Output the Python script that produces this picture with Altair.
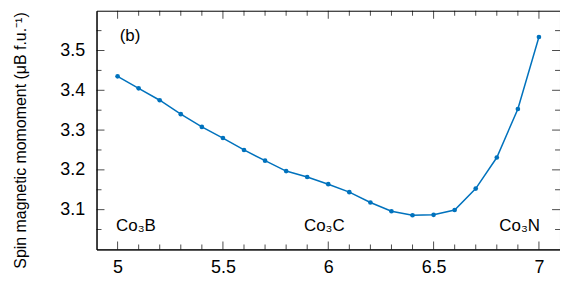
import altair as alt
import pandas as pd

# data
x_vals = [5.0, 5.1, 5.2, 5.3, 5.4, 5.5, 5.6, 5.7, 5.8, 5.9, 6.0,
          6.1, 6.2, 6.3, 6.4, 6.5, 6.6, 6.7, 6.8, 6.9, 7.0]
moment = [3.435, 3.405, 3.375, 3.340, 3.308, 3.280, 3.250, 3.223, 3.197, 3.182, 3.164,
          3.144, 3.118, 3.096, 3.086, 3.087, 3.099, 3.153, 3.231, 3.353, 3.534]

x_major = [5, 5.5, 6, 6.5, 7]
x_minor = [5.1, 5.2, 5.3, 5.4, 5.6, 5.7, 5.8, 5.9, 6.1, 6.2, 6.3, 6.4,
           6.6, 6.7, 6.8, 6.9]
y_major = [3.1, 3.2, 3.3, 3.4, 3.5]
y_minor = [3.05, 3.15, 3.25, 3.35, 3.45, 3.55]

ann_text = ["(b)", "Co₃B", "Co₃C", "Co₃N"]
ann_x = [5.01, 4.993, 5.981, 7.005]
ann_y = [3.5375, 3.058, 3.058, 3.058]
ann_align = ["left", "left", "center", "right"]

W, H = 466, 240
FONT = "Liberation Sans"
BLUE = "#0072BD"

df = pd.DataFrame({"x": x_vals, "y": moment})

xs = alt.Scale(domain=[4.9, 7.1], nice=False, zero=False)
ys = alt.Scale(domain=[3.0, 3.6], nice=False, zero=False)

xaxis = alt.Axis(values=x_major, ticks=False, grid=False, domain=True,
                 domainColor="black", domainWidth=1,
                 labelFontSize=18, labelPadding=9, labelFont=FONT,
                 labelColor="black", labelExpr="datum.value")
yaxis = alt.Axis(values=y_major, ticks=False, grid=False, domain=True,
                 domainColor="black", domainWidth=1,
                 labelFontSize=18, labelPadding=12, labelFont=FONT,
                 labelColor="black", format=".1f",
                 title="Spin magnetic momoment (μB f.u.⁻¹)",
                 titleFontSize=16, titleFont=FONT, titleFontWeight="normal",
                 titleColor="black", titlePadding=31, titleLimit=400,
                 titleY=130)

line = alt.Chart(df).mark_line(color=BLUE, strokeWidth=1.5).encode(
    x=alt.X("x:Q", scale=xs, axis=xaxis, title=None),
    y=alt.Y("y:Q", scale=ys, axis=yaxis),
)
pts = alt.Chart(df).mark_point(color=BLUE, filled=True, opacity=1, size=22).encode(
    x=alt.X("x:Q", scale=xs), y=alt.Y("y:Q", scale=ys)
)

layers = [line, pts]

def xticks(vals, L):
    d = pd.DataFrame({"x": vals})
    bot = alt.Chart(d).mark_tick(orient="vertical", size=L, thickness=1, color="black").encode(
        x=alt.X("x:Q", scale=xs), y=alt.value(H - L / 2))
    top = alt.Chart(d).mark_tick(orient="vertical", size=L, thickness=1, color="black").encode(
        x=alt.X("x:Q", scale=xs), y=alt.value(L / 2))
    return [bot, top]

def yticks(vals, L):
    d = pd.DataFrame({"y": vals})
    left = alt.Chart(d).mark_tick(orient="horizontal", size=L, thickness=1, color="black").encode(
        y=alt.Y("y:Q", scale=ys), x=alt.value(L / 2))
    right = alt.Chart(d).mark_tick(orient="horizontal", size=L, thickness=1, color="black").encode(
        y=alt.Y("y:Q", scale=ys), x=alt.value(W - L / 2))
    return [left, right]

layers += xticks(x_major, 8) + xticks(x_minor, 5) + yticks(y_major, 8) + yticks(y_minor, 5)

ann = pd.DataFrame({"t": ann_text, "x": ann_x, "y": ann_y, "a": ann_align})
for a in ["left", "center", "right"]:
    sub = ann[ann["a"] == a]
    layers.append(
        alt.Chart(sub).mark_text(align=a, baseline="middle", fontSize=17, font=FONT,
                                 color="black").encode(
            x=alt.X("x:Q", scale=xs), y=alt.Y("y:Q", scale=ys), text="t:N")
    )

chart = alt.layer(*layers).properties(
    width=W, height=H,
    autosize=alt.AutoSizeParams(type="none"),
    padding={"left": 89, "top": 2, "right": 0, "bottom": 29},
    background="white",
).configure_view(stroke="black", strokeWidth=1)

chart.save("out.html", embed_options={"renderer": "svg", "actions": False})
